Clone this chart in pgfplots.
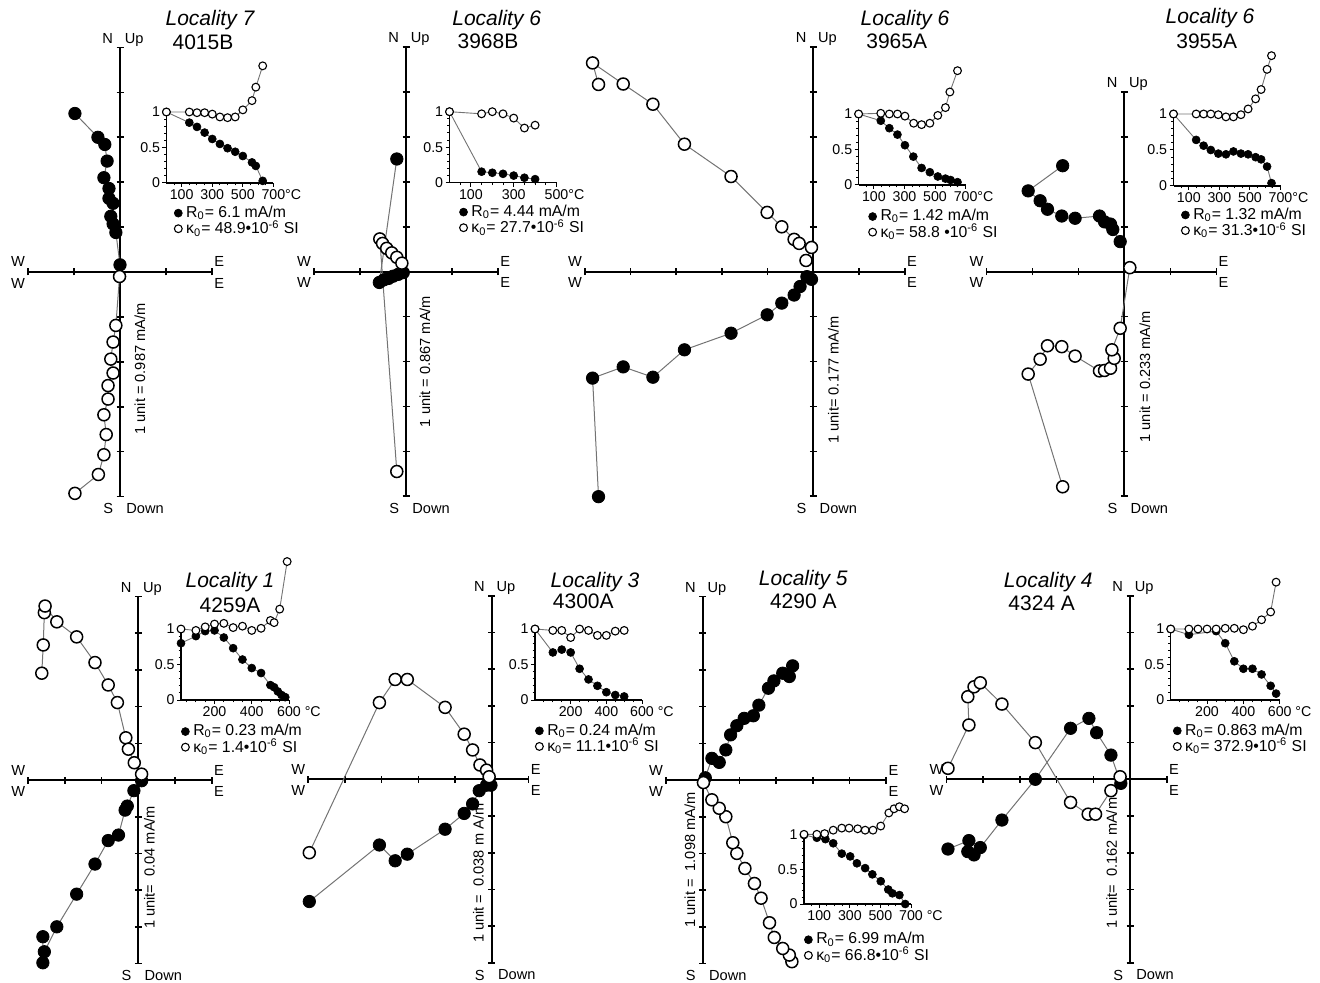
\documentclass[border=0pt]{standalone}
\usepackage{fontspec}
\setmainfont{Liberation Sans}
\usepackage{pgfplots}
\pgfplotsset{compat=1.18}
\newcommand\lab{\fontsize{7.3}{7.3}\selectfont}
\newcommand\ttl{\fontsize{10.5}{12}\selectfont}
\newcommand\lgf{\fontsize{7.9}{8}\selectfont}
\newcommand\tkf{\fontsize{7.1}{7.1}\selectfont}
\newcommand\Rz[1]{R\textsubscript{0}= #1 mA/m}
\newcommand\Kz[1]{κ\textsubscript{0}= #1•10\textsuperscript{-6} SI}
\pgfplotsset{
 zij/.style={axis lines=middle, axis line style={-, line width=0.95pt, black},
   anchor=origin, clip=false, enlargelimits=false,
   xtick={-6,...,6}, ytick={-6,...,6}, xticklabels={}, yticklabels={},
   tick align=center, major tick length=3.5pt, tick style={line width=0.8pt, black}},
 zup/.style={x=23pt, y=22.45pt, ymin=-5, ymax=5},
 zlo/.style={x=18.35pt, y=18.35pt, ymin=-5, ymax=5},
 fz/.style={draw=black!55, line width=0.5pt, mark=*, mark size=3.1pt, mark options={draw=black, fill=black, line width=0.4pt}},
 oz/.style={draw=black!55, line width=0.5pt, mark=*, mark size=3pt, mark options={draw=black, fill=white, line width=0.75pt}},
 fi/.style={draw=black!55, line width=0.45pt, mark=*, mark size=2pt, mark options={draw=black, fill=black, line width=0.3pt}},
 oi/.style={draw=black!55, line width=0.45pt, mark=*, mark size=1.95pt, mark options={draw=black, fill=white, line width=0.55pt}},
 ins/.style={axis lines=left, axis line style={-, line width=0.7pt, black}, anchor=south west,
   scale only axis, width=53.5pt, height=35.5pt, ymin=0, ymax=1, clip=false,
   ytick={0,0.5,1}, yticklabels={0,0.5,1}, minor ytick={0.1,0.2,0.3,0.4,0.6,0.7,0.8,0.9},
   minor xtick={50,100,...,700},
   tick align=outside, major tick length=2pt, minor tick length=1.2pt, tick style={line width=0.5pt, black},
   ticklabel style={font=\tkf, inner sep=1pt},
   legend cell align=left,
   legend style={draw=none, fill=none, anchor=north west, font=\lgf, inner sep=0pt, row sep=-1.1pt, nodes={inner sep=0.6pt}},
   legend image code/.code={\draw[##1] plot coordinates {(0.1cm,0cm)}; \path (0.21cm,0cm);},
 },
}
\newcommand\zlabels[4]{%
 \node[font=\lab, anchor=base east, inner sep=0pt, xshift=-3.3pt, yshift=2.2pt] at (axis cs:0,#4) {N};
 \node[font=\lab, anchor=base west, inner sep=0pt, xshift=2.2pt, yshift=2.2pt] at (axis cs:0,#4) {Up};
 \node[font=\lab, anchor=north east, inner sep=0pt, xshift=-3.3pt, yshift=-3.3pt] at (axis cs:0,#3) {S};
 \node[font=\lab, anchor=north west, inner sep=0pt, xshift=3pt, yshift=-3.3pt] at (axis cs:0,#3) {Down};
 \node[font=\lab, anchor=south east, inner sep=0pt, xshift=-1.3pt, yshift=2.3pt] at (axis cs:#1,0) {W};
 \node[font=\lab, anchor=north east, inner sep=0pt, xshift=-1.3pt, yshift=-2.8pt] at (axis cs:#1,0) {W};
 \node[font=\lab, anchor=south west, inner sep=0pt, xshift=1pt, yshift=2.3pt] at (axis cs:#2,0) {E};
 \node[font=\lab, anchor=north west, inner sep=0pt, xshift=1pt, yshift=-2.8pt] at (axis cs:#2,0) {E};
}
\begin{document}
\begin{tikzpicture}
\useasboundingbox (0,0) rectangle (660pt,-491.5pt);
% ---------------- titles
\node[font=\ttl\itshape] at (105pt,-10pt) {Locality 7};
\node[font=\ttl] at (101.5pt,-21pt) {4015B};
\node[font=\ttl\itshape] at (248.35pt,-10pt) {Locality 6};
\node[font=\ttl] at (244pt,-20.85pt) {3968B};
\node[font=\ttl\itshape] at (452.5pt,-10pt) {Locality 6};
\node[font=\ttl] at (448.35pt,-20.85pt) {3965A};
\node[font=\ttl\itshape] at (605pt,-9.15pt) {Locality 6};
\node[font=\ttl] at (603.35pt,-20.85pt) {3955A};
\node[font=\ttl\itshape] at (115pt,-290.85pt) {Locality 1};
\node[font=\ttl] at (115pt,-302.5pt) {4259A};
\node[font=\ttl\itshape] at (297.5pt,-290.85pt) {Locality 3};
\node[font=\ttl] at (291.65pt,-300.85pt) {4300A};
\node[font=\ttl\itshape] at (401.65pt,-290pt) {Locality 5};
\node[font=\ttl] at (401.65pt,-300.85pt) {4290 A};
\node[font=\ttl\itshape] at (524.15pt,-290.85pt) {Locality 4};
\node[font=\ttl] at (520.85pt,-301.65pt) {4324 A};

% ================= Panel 1
\begin{axis}[zij, zup, at={(60pt,-136pt)}, xmin=-2, xmax=2]
\addplot[fz] coordinates {(-0.98,3.53) (-0.48,3.0) (-0.33,2.84) (-0.28,2.47) (-0.35,2.10) (-0.24,1.86) (-0.24,1.64) (-0.15,1.53) (-0.2,1.24) (-0.15,1.07) (-0.09,0.88) (0,0.16)};
\addplot[oz] coordinates {(-0.01,-0.1) (-0.09,-1.19) (-0.15,-1.56) (-0.2,-1.94) (-0.15,-2.25) (-0.26,-2.53) (-0.26,-2.83) (-0.35,-3.18) (-0.3,-3.62) (-0.35,-4.07) (-0.47,-4.51) (-0.98,-4.93)};
\zlabels{-2}{2}{-5}{5}
\node[rotate=90, font=\lab] at (axis cs:0.435,-2.16) {1 unit = 0.987 mA/m};
\end{axis}
\begin{axis}[ins, at={(83.2pt,-91.5pt)}, xmin=0, xmax=700, xtick={100,300,500,700}, xticklabels={100,300,500,700\rlap{°C}}, legend style={at={(0.07,-0.30)}}]
\addplot[fi] coordinates {(0,1.0) (150,0.85) (200,0.79) (250,0.71) (300,0.62) (350,0.55) (400,0.49) (450,0.44) (500,0.38) (560,0.29) (585,0.24) (630,0.03)};
\addlegendentry{\Rz{6.1}}
\addplot[oi] coordinates {(0,1.0) (150,1.0) (200,0.99) (250,0.99) (300,0.97) (350,0.93) (400,0.92) (450,0.93) (500,1.03) (560,1.16) (585,1.35) (630,1.65)};
\addlegendentry{\Kz{48.9}}
\end{axis}

% ================= Panel 2
\begin{axis}[zij, zup, at={(203pt,-135.85pt)}, xmin=-2, xmax=2]
\addplot[fz] coordinates {(-0.20,2.51) (-0.58,-0.24) (-0.48,-0.18) (-0.38,-0.15) (-0.28,-0.10) (-0.17,-0.06) (-0.06,-0.02)};
\addplot[oz] coordinates {(-0.20,-4.45) (-0.57,0.73) (-0.51,0.63) (-0.42,0.52) (-0.31,0.42) (-0.2,0.32) (-0.09,0.19)};
\zlabels{-2}{2}{-5}{5}
\node[rotate=90, font=\lab] at (axis cs:0.41,-2.0) {1 unit = 0.867 mA/m};
\end{axis}
\begin{axis}[ins, at={(224.75pt,-91.35pt)}, xmin=0, xmax=500, xtick={100,300,500}, xticklabels={100,300,500\rlap{°C}}, legend style={at={(0.09,-0.29)}}]
\addplot[fi] coordinates {(0,1.0) (150,0.155) (200,0.14) (250,0.125) (300,0.10) (350,0.07) (400,0.05)};
\addlegendentry{\Rz{4.44}}
\addplot[oi] coordinates {(0,1.0) (150,0.97) (200,1.0) (250,0.97) (300,0.91) (350,0.77) (400,0.81)};
\addlegendentry{\Kz{27.7}}
\end{axis}

% ================= Panel 3
\begin{axis}[zij, x=22.85pt, y=22.45pt, ymin=-5, ymax=5, at={(406.65pt,-135.85pt)}, xmin=-5, xmax=2]
\addplot[fz] coordinates {(-4.70,-5.01) (-4.83,-2.37) (-4.16,-2.12) (-3.51,-2.35) (-2.82,-1.74) (-1.80,-1.37) (-1.01,-0.96) (-0.69,-0.70) (-0.42,-0.52) (-0.29,-0.33) (-0.14,-0.11) (-0.04,-0.17)};
\addplot[oz] coordinates {(-4.70,4.17) (-4.83,4.65) (-4.16,4.18) (-3.51,3.73) (-2.82,2.84) (-1.80,2.12) (-1.01,1.32) (-0.69,1.0) (-0.42,0.72) (-0.31,0.63) (-0.04,0.54) (-0.16,0.25)};
\zlabels{-5}{2}{-5}{5}
\node[rotate=90, font=\lab] at (axis cs:0.44,-2.41) {1 unit= 0.177 mA/m};
\end{axis}
\begin{axis}[ins, at={(429.3pt,-92.5pt)}, xmin=0, xmax=700, xtick={100,300,500,700}, xticklabels={100,300,500,700\rlap{°C}}, legend style={at={(0.09,-0.32)}}]
\addplot[fi] coordinates {(0,1.0) (145,0.905) (201,0.80) (254,0.71) (303,0.56) (358,0.40) (412,0.24) (466,0.18) (518,0.12) (568,0.09) (602,0.07) (647,0.04)};
\addlegendentry{\Rz{1.42}}
\addplot[oi] coordinates {(0,1.0) (145,1.01) (201,1.0) (254,1.0) (303,0.97) (360,0.87) (412,0.85) (466,0.87) (518,0.98) (568,1.09) (597,1.31) (647,1.61)};
\addlegendentry{\Kz{58.8 }}
\end{axis}

% ================= Panel 4
\begin{axis}[zij, x=23pt, y=22.45pt, ymin=-5, ymax=4, at={(562.15pt,-135.85pt)}, xmin=-3, xmax=2]
\addplot[fz] coordinates {(-1.34,2.36) (-2.09,1.80) (-1.83,1.58) (-1.67,1.39) (-1.36,1.24) (-1.07,1.19) (-0.54,1.24) (-0.43,1.11) (-0.30,1.06) (-0.25,0.94) (-0.09,0.67)};
\addplot[oz] coordinates {(-1.34,-4.79) (-2.09,-2.28) (-1.83,-1.95) (-1.67,-1.65) (-1.36,-1.67) (-1.07,-1.88) (-0.54,-2.21) (-0.43,-2.20) (-0.30,-2.15) (-0.22,-1.93) (-0.27,-1.74) (-0.09,-1.26) (0.12,0.09)};
\zlabels{-3}{2}{-5}{4}
\node[rotate=90, font=\lab] at (axis cs:0.45,-2.34) {1 unit = 0.233 mA/m};
\end{axis}
\begin{axis}[ins, height=36pt, at={(586.75pt,-93pt)}, xmin=0, xmax=700, xtick={100,300,500,700}, xticklabels={100,300,500,700\rlap{°C}}, legend style={at={(0.07,-0.28)}}]
\addplot[fi] coordinates {(0,1.0) (148,0.64) (197,0.56) (244,0.50) (293,0.45) (343,0.44) (392,0.48) (441,0.45) (488,0.44) (537,0.40) (573,0.37) (612,0.27) (641,0.04)};
\addlegendentry{\Rz{1.32}}
\addplot[oi] coordinates {(0,1.0) (148,1.0) (197,1.0) (244,1.0) (293,0.99) (343,0.96) (392,0.96) (441,0.99) (488,1.07) (537,1.21) (573,1.34) (612,1.62) (641,1.81)};
\addlegendentry{\Kz{31.3}}
\end{axis}

% ================= Panel 5
\begin{axis}[zij, zlo, at={(69.15pt,-390pt)}, xmin=-3, xmax=2]
\addplot[fz] coordinates {(-2.60,-4.27) (-2.60,-4.98) (-2.56,-4.68) (-2.22,-4.00) (-1.68,-3.11) (-1.18,-2.29) (-0.82,-1.65) (-0.54,-1.50) (-0.36,-0.82) (-0.30,-0.71) (-0.12,-0.29) (0.09,-0.02)};
\addplot[oz] coordinates {(-2.63,2.91) (-2.59,3.68) (-2.56,4.56) (-2.54,4.74) (-2.22,4.31) (-1.68,3.90) (-1.18,3.20) (-0.82,2.59) (-0.57,2.11) (-0.34,1.15) (-0.27,0.84) (-0.11,0.47) (0.09,0.16)};
\zlabels{-3}{2}{-5}{5}
\node[rotate=90, font=\lab] at (axis cs:0.3,-2.38) {1 unit=\ \ 0.04 mA/m};
\end{axis}
\begin{axis}[ins, width=54pt, at={(90.5pt,-350pt)}, xmin=20, xmax=600, xtick={200,400,600}, xticklabels={200,400,600\rlap{ °C}}, legend style={at={(0.0,-0.32)}}]
\addplot[fi] coordinates {(20,0.80) (100,0.90) (150,0.97) (200,0.98) (250,0.88) (300,0.73) (350,0.57) (400,0.45) (450,0.38) (500,0.21) (520,0.18) (540,0.12) (560,0.07) (580,0.04)};
\addlegendentry{\Rz{0.23}}
\addplot[oi] coordinates {(20,1.0) (100,0.98) (150,1.03) (200,1.07) (250,1.08) (300,1.02) (350,1.04) (400,0.98) (450,1.01) (500,1.12) (520,1.09) (550,1.28) (590,1.95)};
\addlegendentry{\Kz{1.4}}
\end{axis}

% ================= Panel 6
\begin{axis}[zij, zlo, at={(245.85pt,-389.65pt)}, xmin=-5, xmax=1]
\addplot[fz] coordinates {(-4.97,-3.33) (-3.06,-1.79) (-2.63,-2.22) (-2.30,-2.04) (-1.27,-1.36) (-0.75,-0.93) (-0.52,-0.67) (-0.34,-0.31) (-0.14,-0.16) (-0.02,-0.16)};
\addplot[oz] coordinates {(-4.97,-2.00) (-3.06,2.09) (-2.63,2.72) (-2.30,2.72) (-1.27,1.96) (-0.75,1.23) (-0.52,0.80) (-0.32,0.39) (-0.14,0.25) (-0.07,0.07)};
\zlabels{-5}{1}{-5}{5}
\node[rotate=90, font=\lab] at (axis cs:-0.365,-2.56) {1 unit =\ \ 0.038 m A/m};
\end{axis}
\begin{axis}[ins, at={(267.5pt,-350pt)}, xmin=0, xmax=600, xtick={200,400,600}, xticklabels={200,400,600\rlap{ °C}}, legend style={at={(0.0,-0.31)}}]
\addplot[fi] coordinates {(0,1.0) (100,0.67) (150,0.71) (200,0.67) (250,0.44) (300,0.29) (350,0.20) (400,0.11) (450,0.07) (500,0.05)};
\addlegendentry{\Rz{0.24}}
\addplot[oi] coordinates {(0,1.0) (100,0.98) (150,0.98) (200,0.88) (250,1.0) (300,0.98) (350,0.91) (400,0.91) (450,0.97) (500,0.98)};
\addlegendentry{\Kz{11.1}}
\end{axis}

% ================= Panel 7
\begin{axis}[zij, zlo, at={(351.35pt,-390pt)}, xmin=-1, xmax=5]
\addplot[fz] coordinates {(2.45,3.11) (2.36,2.82) (2.18,2.91) (1.94,2.70) (1.79,2.50) (1.53,2.04) (1.38,1.75) (1.13,1.68) (0.93,1.48) (0.76,1.23) (0.63,0.82) (0.45,0.48) (0.25,0.59) (0.07,0.06)};
\addplot[oz] coordinates {(2.43,-4.95) (2.36,-4.77) (2.18,-4.59) (1.95,-4.29) (1.82,-3.89) (1.59,-3.22) (1.41,-2.82) (1.15,-2.41) (0.93,-2.00) (0.82,-1.71) (0.63,-1.00) (0.45,-0.77) (0.25,-0.54) (0.02,-0.07)};
\zlabels{-1}{5}{-5}{5}
\node[rotate=90, font=\lab] at (axis cs:-0.35,-2.18) {1 unit =\ \ 1.098 mA/m};
\end{axis}
\begin{axis}[ins, height=34.5pt, at={(402pt,-452pt)}, xmin=0, xmax=700, xtick={100,300,500,700}, xticklabels={100,300,500,700\rlap{ °C}}, legend style={at={(0.0,-0.39)}}]
\addplot[fi] coordinates {(0,1.0) (84,0.96) (140,0.94) (191,0.88) (247,0.73) (302,0.69) (346,0.59) (400,0.52) (447,0.43) (502,0.33) (551,0.21) (578,0.155) (624,0.13) (662,0.0)};
\addlegendentry{\Rz{6.99}}
\addplot[oi] coordinates {(0,1.01) (84,1.01) (135,1.02) (191,1.07) (247,1.10) (295,1.10) (351,1.09) (400,1.07) (451,1.07) (502,1.13) (555,1.32) (589,1.38) (624,1.41) (658,1.38)};
\addlegendentry{\Kz{66.8}}
\end{axis}

% ================= Panel 8
\begin{axis}[zij, zlo, at={(565pt,-389.65pt)}, xmin=-5, xmax=1]
\addplot[fz] coordinates {(-4.96,-1.90) (-4.39,-1.67) (-4.42,-1.97) (-4.25,-2.06) (-4.08,-1.86) (-3.49,-1.11) (-2.58,0.0) (-1.62,1.39) (-1.12,1.66) (-0.91,1.27) (-0.52,0.66) (-0.25,-0.11)};
\addplot[oz] coordinates {(-4.96,0.30) (-4.39,1.48) (-4.42,2.25) (-4.25,2.52) (-4.08,2.63) (-3.49,2.05) (-2.58,1.00) (-1.62,-0.63) (-1.14,-0.95) (-0.94,-0.95) (-0.52,-0.31) (-0.27,0.07)};
\zlabels{-5}{1}{-5}{5}
\node[rotate=90, font=\lab] at (axis cs:-0.5,-2.29) {1 unit=\ \ 0.162 mA/m};
\end{axis}
\begin{axis}[ins, width=54.5pt, at={(585.35pt,-350pt)}, xmin=0, xmax=600, xtick={200,400,600}, xticklabels={200,400,600\rlap{ °C}}, legend style={at={(0.02,-0.31)}}]
\addplot[fi] coordinates {(0,1.0) (100,0.92) (250,0.97) (300,0.80) (350,0.545) (400,0.44) (450,0.44) (500,0.36) (550,0.20) (580,0.09)};
\addlegendentry{\Rz{0.863}}
\addplot[oi] coordinates {(0,1.0) (100,1.0) (150,1.0) (200,1.0) (250,1.0) (300,1.01) (350,1.01) (400,0.99) (450,1.04) (500,1.13) (550,1.24) (580,1.66)};
\addlegendentry{\Kz{372.9}}
\end{axis}
\end{tikzpicture}
\end{document}
